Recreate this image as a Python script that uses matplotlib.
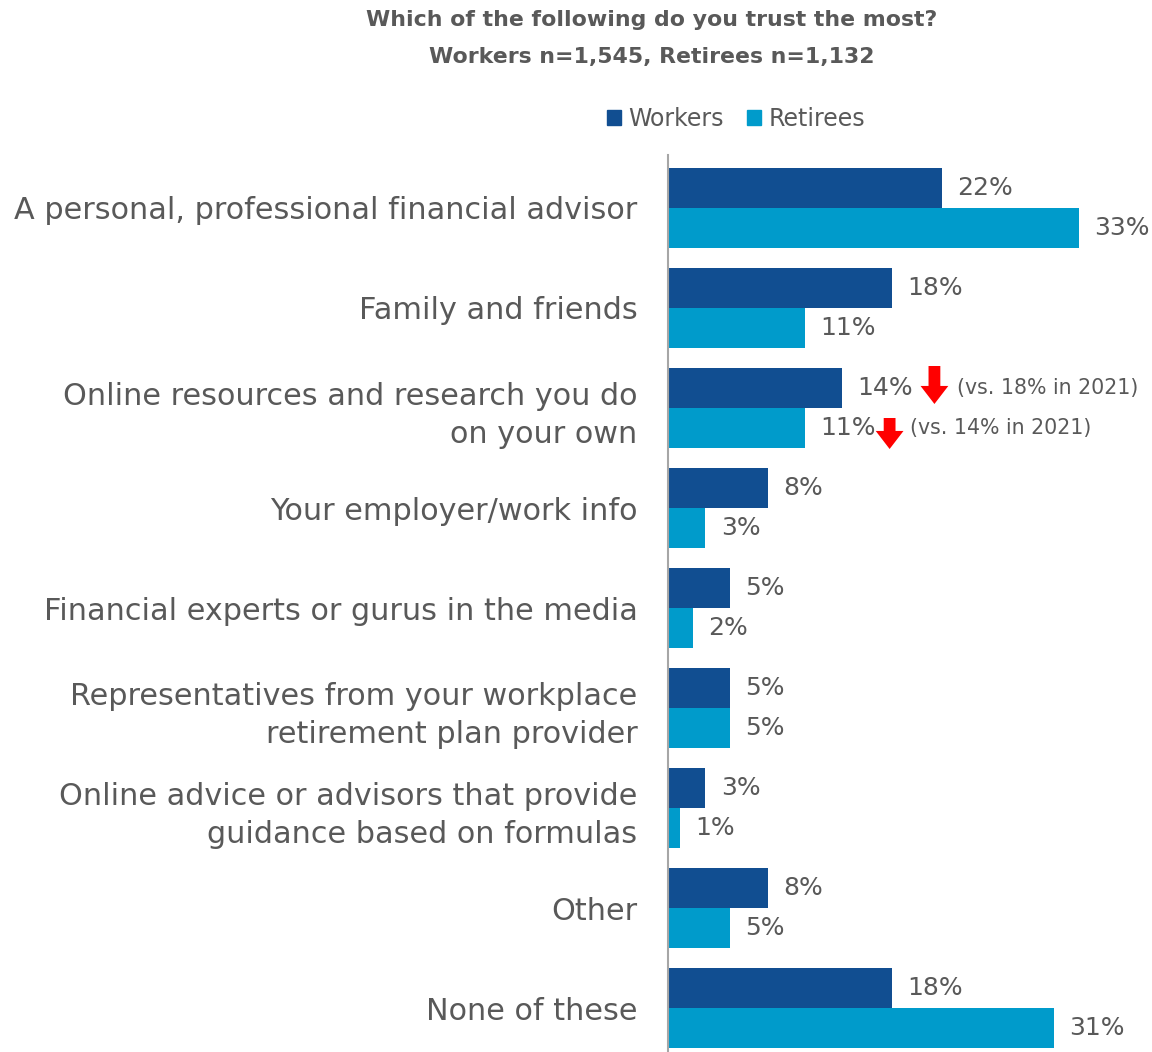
import matplotlib
matplotlib.use('Agg')
import matplotlib.pyplot as plt
from matplotlib.patches import Patch

# Survey answers, top to bottom
categories = [
    'A personal, professional financial advisor',
    'Family and friends',
    'Online resources and research you do\non your own',
    'Your employer/work info',
    'Financial experts or gurus in the media',
    'Representatives from your workplace\nretirement plan provider',
    'Online advice or advisors that provide\nguidance based on formulas',
    'Other',
    'None of these',
]
workers = [22, 18, 14, 8, 5, 5, 3, 8, 18]
retirees = [33, 11, 11, 3, 2, 5, 1, 5, 31]

# year-over-year notes for the online resources row
prior_workers = 18
prior_retirees = 14
prior_year = 2021
note_row = 2

worker_color = '#114E91'
retiree_color = '#009BCB'
text_color = '#595959'

plt.rcParams['font.family'] = ['DejaVu Sans']

fig = plt.figure(figsize=(11.52, 10.52), dpi=100)
ax = fig.add_axes([668 / 1152, 0.0, 484 / 1152, 897 / 1052])

ys = list(range(len(categories)))
h = 0.4
ax.barh([y - h / 2 for y in ys], workers, height=h, color=worker_color)
ax.barh([y + h / 2 for y in ys], retirees, height=h, color=retiree_color)

ax.set_xlim(0, 484 / 12.45)
ax.set_ylim(8.44, -0.53)

for y, w, r in zip(ys, workers, retirees):
    ax.annotate('%d%%' % w, xy=(w, y - h / 2), xytext=(11, 0), textcoords='offset points',
                va='center', ha='left', fontsize=18, color=text_color)
    ax.annotate('%d%%' % r, xy=(r, y + h / 2), xytext=(11, 0), textcoords='offset points',
                va='center', ha='left', fontsize=18, color=text_color)

# red down arrows with the previous year's figures
arrow = dict(arrowstyle='simple,head_length=1.3,head_width=2.0,tail_width=0.85',
             color='#FF0000', lw=0, shrinkA=0, shrinkB=0)
ax.annotate('', xy=(21.4, 1.96), xytext=(21.4, 1.58), arrowprops=arrow)
ax.annotate('', xy=(17.8, 2.41), xytext=(17.8, 2.10), arrowprops=arrow)
ax.text(23.2, note_row - h / 2, '(vs. %d%% in %d)' % (prior_workers, prior_year),
        va='center', ha='left', fontsize=14.8, color=text_color)
ax.text(19.4, note_row + h / 2, '(vs. %d%% in %d)' % (prior_retirees, prior_year),
        va='center', ha='left', fontsize=14.8, color=text_color)

ax.set_yticks(ys)
ax.set_yticklabels(categories, fontsize=21.8, color=text_color)
for lab in ax.get_yticklabels():
    lab.set_linespacing(1.39)
ax.tick_params(axis='y', length=0, pad=22)
ax.set_xticks([])

for side in ['top', 'right', 'bottom']:
    ax.spines[side].set_visible(False)
ax.spines['left'].set_color('#A6A6A6')
ax.spines['left'].set_linewidth(1.5)

handles = [Patch(color=worker_color, label='Workers'),
           Patch(color=retiree_color, label='Retirees')]
fig.legend(handles=handles, loc='center', bbox_to_anchor=(736 / 1152, 1 - 119 / 1052),
           ncol=2, frameon=False, fontsize=17, handlelength=0.6, handleheight=0.6,
           handletextpad=0.3, columnspacing=1.0, labelcolor=text_color)

fig.text(652 / 1152, 1 - 20 / 1052, 'Which of the following do you trust the most?',
         ha='center', va='center', fontsize=15.8, fontweight='bold', color=text_color)
fig.text(652 / 1152, 1 - 57 / 1052, 'Workers n=1,545, Retirees n=1,132',
         ha='center', va='center', fontsize=15.8, fontweight='bold', color=text_color)

fig.savefig('out.png', dpi=100)
